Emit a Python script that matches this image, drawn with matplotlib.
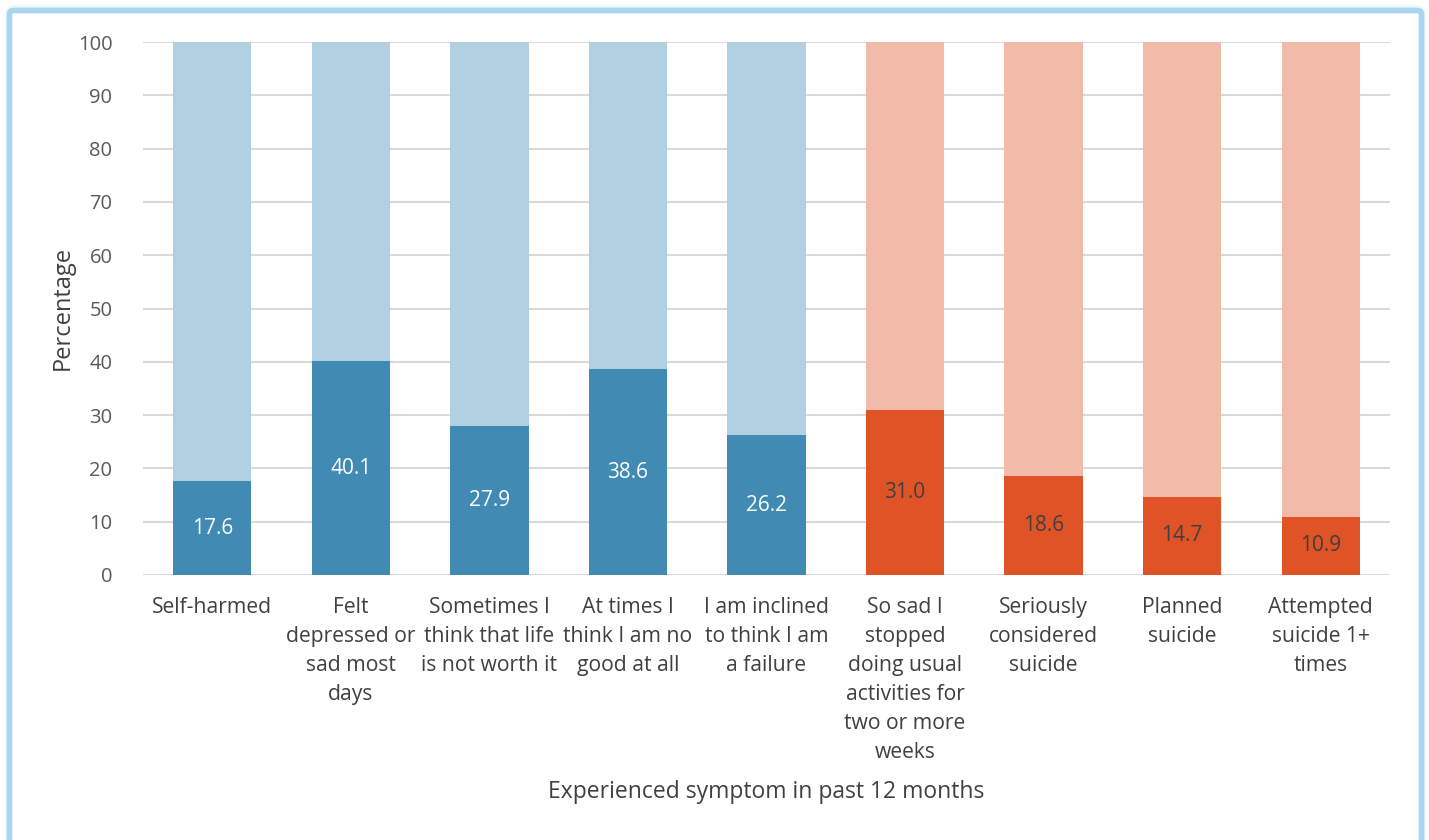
import matplotlib
matplotlib.use("Agg")
import matplotlib.pyplot as plt
from matplotlib.patches import FancyBboxPatch

plt.rcParams['font.family'] = ['Open Sans', 'DejaVu Sans']

categories = [
    "Self-harmed",
    "Felt\ndepressed or\nsad most\ndays",
    "Sometimes I\nthink that life\nis not worth it",
    "At times I\nthink I am no\ngood at all",
    "I am inclined\nto think I am\na failure",
    "So sad I\nstopped\ndoing usual\nactivities for\ntwo or more\nweeks",
    "Seriously\nconsidered\nsuicide",
    "Planned\nsuicide",
    "Attempted\nsuicide 1+\ntimes",
]
values = [17.6, 40.1, 27.9, 38.6, 26.2, 31.0, 18.6, 14.7, 10.9]
groups = ["wellbeing"] * 5 + ["suicide"] * 4
total = 100

palette = {
    "wellbeing": {"dark": "#408AB4", "light": "#B1D0E2", "text": "white"},
    "suicide": {"dark": "#E05326", "light": "#F2BAA9", "text": "#404040"},
}

W, H = 1429, 840
fig = plt.figure(figsize=(W / 100, H / 100), dpi=100)
fig.patch.set_facecolor("white")

# soft glow and light-blue frame around the chart
for i, a in enumerate([0.05, 0.08, 0.12, 0.18]):
    off = 4 - i
    glow = FancyBboxPatch((9.5 - off, -30), (1421.5 - 9.5) + 2 * off, (H - 10) + 30 + off,
                          boxstyle="round,pad=0,rounding_size=6",
                          transform=None, fill=False, edgecolor="#A6D6F0",
                          linewidth=2, alpha=a, zorder=0)
    fig.patches.append(glow)
frame = FancyBboxPatch((9.5, -30), 1421.5 - 9.5, (H - 10.5) + 30,
                       boxstyle="round,pad=0,rounding_size=4",
                       transform=None, fill=False, edgecolor="#A6D6F0",
                       linewidth=4, zorder=1)
fig.patches.append(frame)

ax = fig.add_axes([143 / W, 265 / H, (1390 - 143) / W, (575 - 42) / H])
x = list(range(len(categories)))
dark = [palette[g]["dark"] for g in groups]
light = [palette[g]["light"] for g in groups]
rest = [total - v for v in values]

ax.bar(x, values, width=0.565, color=dark, zorder=3)
ax.bar(x, rest, bottom=values, width=0.565, color=light, zorder=3)

for xi, v, g in zip(x, values, groups):
    ax.text(xi, v / 2, f"{v:.1f}", ha="center", va="center",
            color=palette[g]["text"], fontsize=15, zorder=4)

ax.set_xlim(-0.5, len(categories) - 0.5)
ax.set_ylim(0, 100)
ax.set_yticks(range(0, 101, 10))
ax.set_xticks(x)
ax.set_xticklabels(categories, fontsize=15.2, color="#404040", linespacing=1.5, va="top")
ax.tick_params(axis="x", length=0, pad=16)
ax.tick_params(axis="y", length=0, pad=22, labelsize=14.5, labelcolor="#595959")
ax.grid(axis="y", color="#D9D9D9", linewidth=1.5, zorder=0)
ax.set_axisbelow(True)
for s in ax.spines.values():
    s.set_visible(False)

fig.text(63 / W, 1 - 308 / H, "Percentage", rotation=90, ha="center", va="center",
         fontsize=17, color="#404040")
fig.text((143 + 1390) / 2 / W, 1 - 792 / H, "Experienced symptom in past 12 months",
         ha="center", va="center", fontsize=16.5, color="#404040")

fig.savefig("out.png", dpi=100, facecolor="white")
